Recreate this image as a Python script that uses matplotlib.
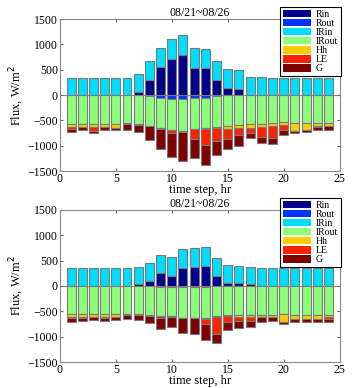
import numpy as np
import matplotlib
matplotlib.use('Agg')
import matplotlib.pyplot as plt

plt.rcParams['font.family'] = ['Liberation Serif', 'DejaVu Serif']

hours = np.arange(1, 25)
names = ['Rin', 'Rout', 'IRin', 'IRout', 'Hh', 'LE', 'G']
colors = ['#00008c', '#0033ff', '#00ddff', '#8cff78', '#ffcc00', '#ff2200', '#7f0000']
title = '08/21~08/26'

# upper panel
rin_1 = [0, 0, 0, 0, 0, 0, 65, 290, 555, 714, 800, 542, 530, 291, 145, 112, 5, 3, 0, 0, 0, 0, 0, 0]
irin_1 = [340, 340, 340, 340, 340, 343, 357, 385, 378, 383, 390, 391, 387, 376, 377, 377, 352, 352, 340, 340, 340, 340, 340, 340]
rout_1 = [0, 0, 0, 0, 0, 0, -3, -20, -50, -80, -80, -50, -60, -15, -3, 0, 0, 0, 0, 0, 0, 0, 0, 0]
irout_1 = [-570, -570, -570, -570, -570, -560, -570, -590, -600, -610, -620, -615, -595, -615, -610, -585, -570, -570, -555, -540, -545, -545, -555, -555]
hh_1 = [-55, -53, -53, -55, -70, -15, -15, -5, -5, -5, -10, -5, -5, -20, -55, -70, -80, -60, -55, -60, -155, -135, -65, -55]
le_1 = [-50, -5, -90, -10, -5, -5, -5, -5, -10, -50, -25, -195, -330, -260, -190, -130, -105, -190, -240, -85, -5, -5, -5, -10]
g_1 = [-50, -60, -30, -50, -45, -105, -130, -270, -400, -485, -560, -385, -390, -270, -215, -210, -95, -120, -115, -95, -45, -40, -60, -60]

# lower panel
rin_2 = [0, 0, 0, 0, 0, 0, 33, 106, 250, 204, 348, 374, 395, 197, 66, 52, 39, 5, 0, 0, 0, 0, 0, 0]
irin_2 = [348, 348, 348, 348, 348, 350, 341, 346, 359, 366, 373, 373, 374, 354, 354, 348, 341, 345, 345, 345, 345, 345, 345, 345]
rout_2 = [0, 0, 0, 0, 0, 0, 0, -5, -20, -20, -30, -30, -30, -10, 0, 0, 0, 0, 0, 0, 0, 0, 0, 0]
irout_2 = [-555, -555, -555, -555, -560, -555, -560, -575, -575, -575, -595, -595, -610, -590, -575, -570, -570, -570, -570, -560, -570, -570, -565, -565]
hh_2 = [-60, -65, -60, -65, -55, -20, -15, -10, -5, -5, -5, -5, -5, -5, -20, -35, -40, -40, -35, -150, -80, -80, -80, -50]
le_2 = [-25, -5, -5, -5, -5, -5, -5, -5, -35, -10, -10, -10, -115, -345, -115, -90, -80, -5, -5, -5, -5, -5, -5, -35]
g_2 = [-65, -65, -60, -60, -60, -80, -100, -140, -215, -195, -290, -300, -310, -180, -150, -135, -110, -95, -90, -40, -55, -55, -55, -60]


def draw(ax, series):
    pos = np.zeros(24)
    neg = np.zeros(24)
    for k, vals in enumerate(series):
        vals = np.array(vals, dtype=float)
        if names[k] in ('Rin', 'IRin'):
            ax.bar(hours, vals, 0.8, bottom=pos, color=colors[k], edgecolor='#7a7a7a', linewidth=0.8, label=names[k])
            pos += vals
        else:
            ax.bar(hours, vals, 0.8, bottom=neg, color=colors[k], edgecolor='#7a7a7a', linewidth=0.8, label=names[k])
            neg += vals
    ax.axhline(0, color='#8a8a8a', linewidth=0.8, zorder=0.5)
    ax.set_xlim(0, 25)
    ax.set_ylim(-1500, 1500)
    ax.set_xticks(range(0, 26, 5))
    ax.set_yticks(range(-1500, 1501, 500))
    ax.tick_params(direction='in', top=True, right=True, labelsize=8.5, length=2.5, pad=1.5,
                   colors='#666666', labelcolor='black')
    for s in ax.spines.values():
        s.set_color('#8a8a8a')
        s.set_linewidth(0.8)
    ax.set_title(title, fontsize=8.5, pad=2)
    ax.set_xlabel('time step, hr', fontsize=9, labelpad=-1)
    ax.set_ylabel('Flux, W/m$^2$', fontsize=9, labelpad=1)
    handles, labels = ax.get_legend_handles_labels()
    leg = ax.legend(handles, labels, loc='upper right', bbox_to_anchor=(1.005, 1.08), borderaxespad=0,
                    fontsize=7, labelspacing=0.0, handleheight=0.8, handlelength=2.9, handletextpad=0.5,
                    borderpad=0.3, fancybox=False, framealpha=1)
    leg.get_frame().set_edgecolor('black')
    leg.get_frame().set_linewidth(0.8)
    for h in leg.legend_handles:
        h.set_edgecolor('none')


fig = plt.figure(figsize=(3.52, 3.88), dpi=100)
ax1 = fig.add_axes([0.170, 0.559, 0.795, 0.392])
ax2 = fig.add_axes([0.170, 0.067, 0.795, 0.392])

draw(ax1, [rin_1, rout_1, irin_1, irout_1, hh_1, le_1, g_1])
draw(ax2, [rin_2, rout_2, irin_2, irout_2, hh_2, le_2, g_2])

plt.savefig('out.png', dpi=100)
